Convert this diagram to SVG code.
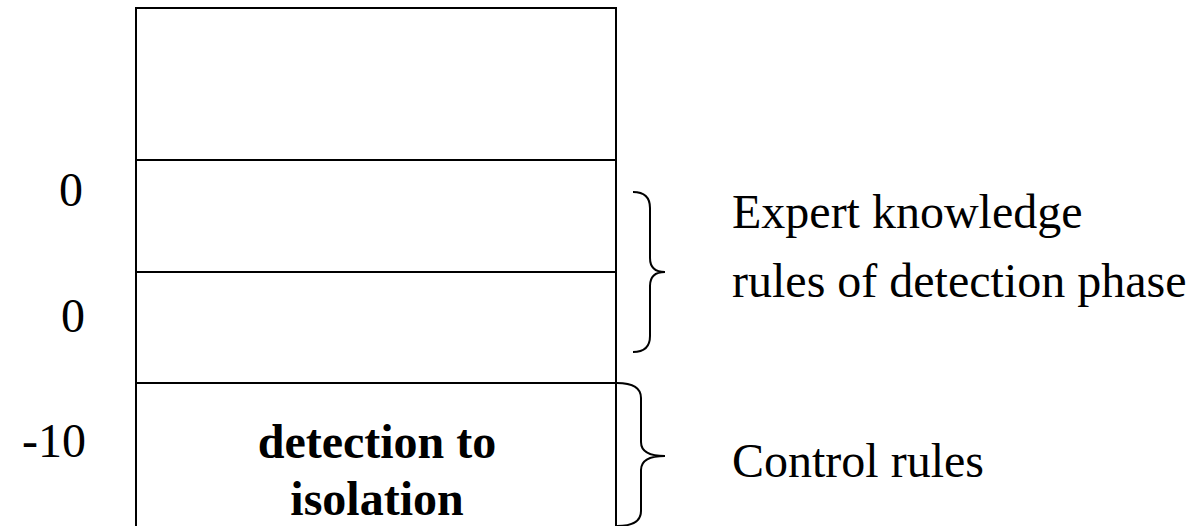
<svg xmlns="http://www.w3.org/2000/svg" width="1194" height="526" viewBox="0 0 1194 526">
<style>
.ln{stroke:#000;stroke-width:2;fill:none}
.t{font-family:"Liberation Serif","Times New Roman",serif;font-size:48px;fill:#000}
.b{font-weight:bold}
</style>
<rect width="1194" height="526" fill="#fff"/>
<g id="stack">
<rect class="ln" x="136" y="8" width="480" height="530"/>
<line class="ln" x1="136" y1="160" x2="615" y2="160"/>
<line class="ln" x1="136" y1="272" x2="615" y2="272"/>
<line class="ln" x1="136" y1="383" x2="615" y2="383"/>
<text class="t b" x="377" y="458" text-anchor="middle">detection to</text>
<text class="t b" x="377" y="515" text-anchor="middle">isolation</text>
</g>
<g id="labels">
<text class="t" x="83" y="206" text-anchor="end">0</text>
<text class="t" x="85" y="332" text-anchor="end">0</text>
<text class="t" x="86" y="457" text-anchor="end">-10</text>
</g>
<g id="connectors">
<path class="ln" d="M633,192 Q650,192 650,208 L650,258 Q650,272 665,272 Q650,272 650,286 L650,336 Q650,352 633,352"/>
<path class="ln" d="M617,383 Q641,383 641,398 L641,442 Q641,456 665,456 Q641,456 641,470 L641,511 Q641,526 617,526"/>
</g>
<g id="notes">
<text class="t" x="732" y="228">Expert knowledge</text>
<text class="t" x="732" y="297">rules of detection phase</text>
<text class="t" x="732" y="477">Control rules</text>
</g>
</svg>
